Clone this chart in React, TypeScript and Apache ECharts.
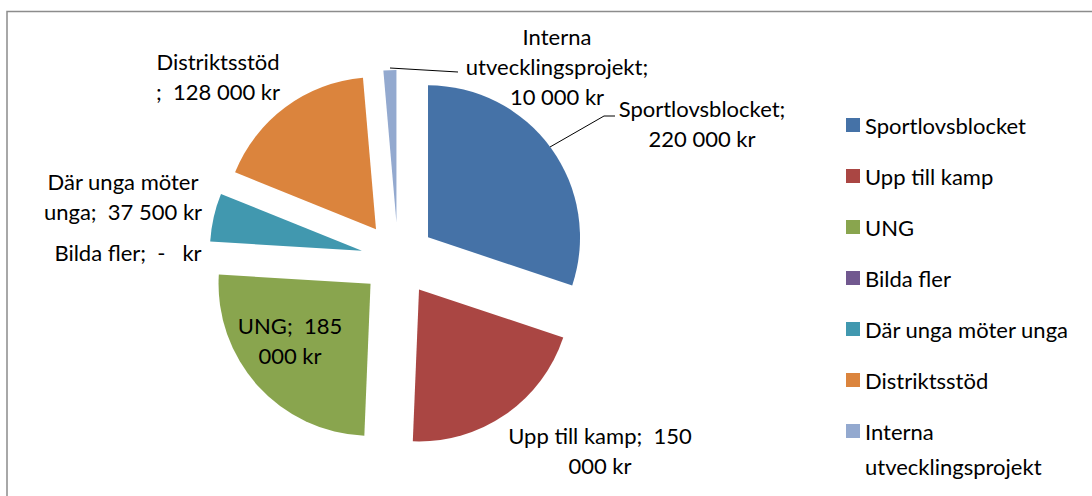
import React, { useEffect, useRef } from "react";
import * as echarts from "echarts";

// ---- data ----
const categories = [
  "Sportlovsblocket",
  "Upp till kamp",
  "UNG",
  "Bilda fler",
  "Där unga möter unga",
  "Distriktsstöd",
  "Interna utvecklingsprojekt",
];
const values = [220000, 150000, 185000, 0, 37500, 128000, 10000];
const currency = "kr";

// ---- styling / layout ----
const colors = ["#4572A7", "#AA4643", "#89A54E", "#71588F", "#4198AF", "#DB843D", "#93A9CF"];
const labelWrapChars = [17, 19, 9, 30, 16, 13, 19];
const labelCenters: number[][] = [
  [702, 123],
  [600, 450],
  [290, 340],
  [128, 252],
  [123, 196],
  [218, 76],
  [557, 66],
];
const labelLinePaths: Record<number, number[][]> = {
  0: [[550, 147], [604, 116], [615, 116]],
  6: [[390, 68], [424, 70], [458, 72]],
};
const FONT = "Lato";
const FONT_SIZE = 22;
const PIE_CENTER = [398, 259];
const PIE_RADIUS = 152;

function fmtValue(v: number): string {
  if (v === 0) return "-  ";
  return String(v).replace(/\B(?=(\d{3})+(?!\d))/g, " ");
}

function labelText(name: string, value: number, max: number): string {
  const pieces: [string, string][] = [];
  name.split(" ").forEach((w, i) => pieces.push([i ? " " : "", w]));
  pieces.push(["", ";"]);
  const vWords = value === 0 ? [fmtValue(value)] : fmtValue(value).split(" ");
  vWords.forEach((w, i) => pieces.push([i ? " " : "  ", w]));
  pieces.push([" ", currency]);
  const lines: string[] = [];
  let cur = "";
  for (const [sep, t] of pieces) {
    if (cur && (cur + sep + t).length > max) {
      lines.push(cur);
      cur = t;
    } else {
      cur = cur + sep + t;
    }
  }
  lines.push(cur);
  return lines.join("\n");
}

function splitLegendName(name: string): string[] {
  const i = name.indexOf(" utvecklingsprojekt");
  return i >= 0 ? [name.slice(0, i), name.slice(i + 1)] : [name];
}

export default function App() {
  const ref = useRef<HTMLDivElement>(null);
  useEffect(() => {
    if (!ref.current) return;
    const chart = echarts.init(ref.current, undefined, { renderer: "svg" });
    const lastName = categories[categories.length - 1];
    const legendSecondLine = splitLegendName(lastName)[1];
    chart.setOption({
      animation: false,
      color: colors,
      graphic: [
        {
          type: "rect",
          shape: { x: 7, y: 11.5, width: 1200, height: 600 },
          style: { fill: "none", stroke: "#8c8c8c", lineWidth: 1.5 },
          silent: true,
        },
        {
          type: "text",
          x: 865,
          y: 466,
          style: {
            text: legendSecondLine,
            fontFamily: FONT,
            fontSize: FONT_SIZE,
            fill: "#000",
            align: "left",
            verticalAlign: "middle",
          },
          silent: true,
        },
      ],
      legend: {
        orient: "vertical",
        left: 846,
        top: 110,
        padding: 0,
        itemWidth: 14,
        itemHeight: 14,
        itemGap: 21,
        selectedMode: false,
        icon: "rect",
        textStyle: { fontFamily: FONT, fontSize: FONT_SIZE, lineHeight: 30, color: "#000" },
        data: categories,
        formatter: (name: string) => splitLegendName(name)[0],
      },
      series: [
        {
          type: "pie",
          name: "slices",
          center: PIE_CENTER,
          radius: PIE_RADIUS,
          startAngle: 90,
          clockwise: true,
          selectedMode: "multiple",
          selectedOffset: 37,
          emphasis: { disabled: true },
          label: { show: false },
          labelLine: { show: false },
          data: categories.map((name, i) => ({
            name,
            value: values[i],
            selected: true,
            itemStyle: { color: colors[i] },
          })),
        },
        {
          type: "pie",
          name: "labels",
          center: PIE_CENTER,
          radius: PIE_RADIUS,
          startAngle: 90,
          clockwise: true,
          silent: true,
          selectedMode: false,
          emphasis: { disabled: true },
          avoidLabelOverlap: false,
          itemStyle: { color: "rgba(0,0,0,0)" },
          data: categories.map((name, i) => ({
            name,
            value: values[i],
            itemStyle: { color: "rgba(0,0,0,0)" },
            labelLine: { show: !!labelLinePaths[i] },
          })),
          label: {
            show: true,
            color: "#000",
            fontFamily: FONT,
            fontSize: FONT_SIZE,
            lineHeight: 30,
            align: "center",
            formatter: (p: any) => labelText(p.name, p.value, labelWrapChars[p.dataIndex]),
          },
          labelLine: {
            show: false,
            lineStyle: { color: "#000", width: 1 },
          },
          labelLayout: (p: any) => {
            const c = labelCenters[p.dataIndex];
            const out: any = { x: c[0], y: c[1], align: "center", verticalAlign: "middle" };
            if (labelLinePaths[p.dataIndex]) out.labelLinePoints = labelLinePaths[p.dataIndex];
            return out;
          },
        },
      ],
    });
    return () => chart.dispose();
  }, []);
  return (
    <div
      ref={ref}
      style={{ position: "fixed", left: 0, top: 0, width: 1092, height: 496, background: "#fff" }}
    />
  );
}
